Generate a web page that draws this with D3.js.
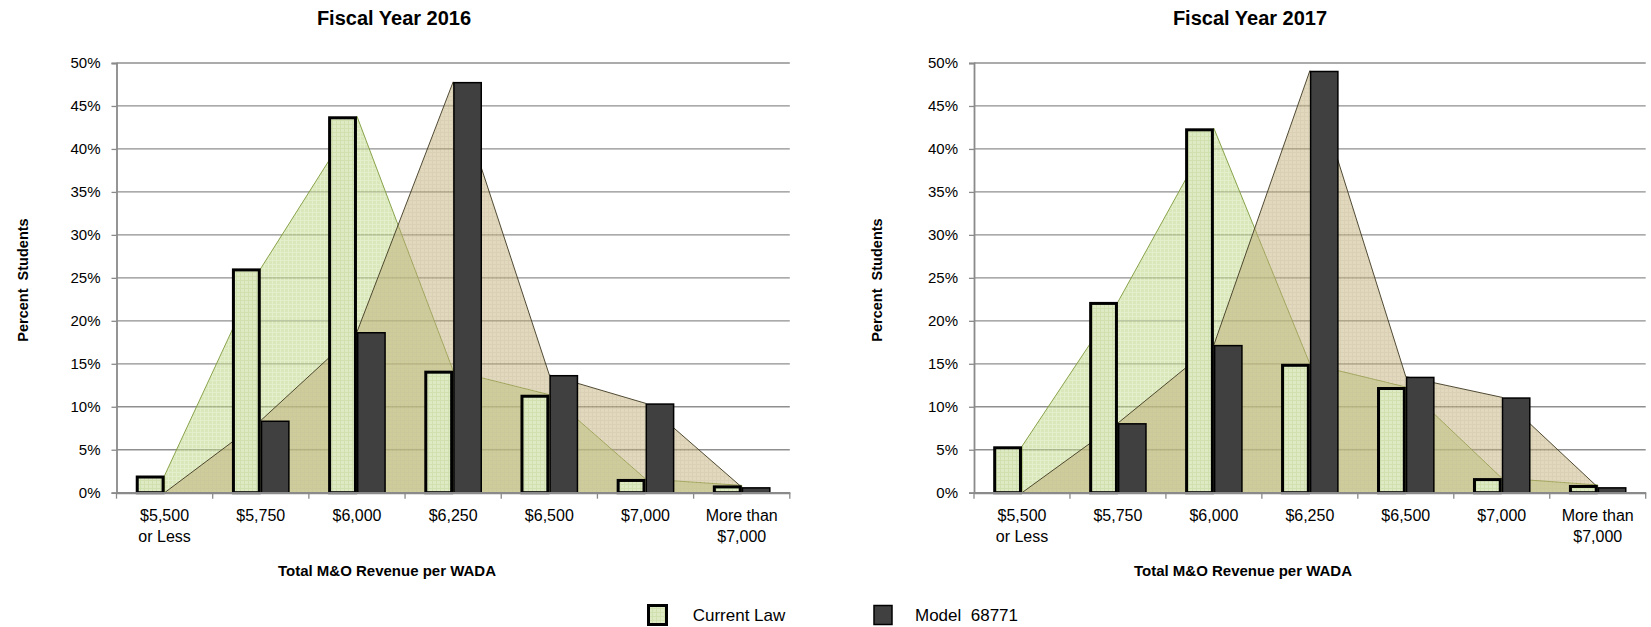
<!DOCTYPE html>
<html>
<head>
<meta charset="utf-8">
<script src="https://cdn.jsdelivr.net/npm/d3@7"></script>
<style>
  html, body { margin: 0; padding: 0; background: #fff; }
  svg text { font-family: "Liberation Sans", Arial, sans-serif; fill: #000; }
</style>
</head>
<body>
<svg id="chart" width="1651" height="627"></svg>
<script>
// ---- Data ----
const categories = ["$5,500 or Less", "$5,750", "$6,000", "$6,250", "$6,500", "$7,000", "More than $7,000"];
const tickLabelLines = [["$5,500", "or Less"], ["$5,750"], ["$6,000"], ["$6,250"], ["$6,500"], ["$7,000"], ["More than", "$7,000"]];
const yTicks = [0, 5, 10, 15, 20, 25, 30, 35, 40, 45, 50];
const seriesNames = ["Current Law", "Model  68771"];
const chartTitles = ["Fiscal Year 2016", "Fiscal Year 2017"];
const fy2016CurrentLaw = [2.0, 26.1, 43.8, 14.2, 11.4, 1.6, 0.85];
const fy2016Model = [0, 8.4, 18.7, 47.8, 13.7, 10.4, 0.65];
const fy2017CurrentLaw = [5.4, 22.2, 42.4, 15.0, 12.3, 1.7, 0.9];
const fy2017Model = [0, 8.1, 17.2, 49.1, 13.5, 11.1, 0.65];
const xAxisTitle = "Total M&O Revenue per WADA";
const yAxisTitle = "Percent  Students";

const svg = d3.select("#chart");
const defs = svg.append("defs");

function makePattern(id, base, line, size) {
  const p = defs.append("pattern").attr("id", id).attr("patternUnits", "userSpaceOnUse")
    .attr("width", size).attr("height", size);
  p.append("rect").attr("width", size).attr("height", size).attr("fill", base);
  p.append("rect").attr("x", 0).attr("y", 0).attr("width", size).attr("height", 1).attr("fill", line);
  p.append("rect").attr("x", 0).attr("y", 0).attr("width", 1).attr("height", size).attr("fill", line);
}
makePattern("patGreen", "rgb(188,212,130)", "rgb(204,224,158)", 4);
makePattern("patTan", "rgb(196,178,126)", "rgb(180,162,108)", 4);
makePattern("patBar", "rgb(222,234,196)", "rgb(208,224,174)", 4);

function drawChart(cfg) {
  const g = svg.append("g");
  const x = d3.scaleBand().domain(d3.range(categories.length)).range([cfg.x0, cfg.x1]).padding(0);
  const y = d3.scaleLinear().domain([0, 50]).range([492.7, 63]);
  const bw = x.bandwidth();
  const cx = i => x(i) + bw / 2;
  const half = bw * 0.3;

  // gridlines
  g.append("g").selectAll("line").data(yTicks.filter(d => d > 0)).join("line")
    .attr("x1", cfg.x0).attr("x2", cfg.x1)
    .attr("y1", d => y(d)).attr("y2", d => y(d))
    .attr("stroke", "#8f8f8f").attr("stroke-width", 1.3);

  // areas
  const area = d3.area().x((d, i) => cx(i)).y0(y(0)).y1(d => y(d));
  g.append("path").datum(cfg.cl).attr("d", area)
    .attr("fill", "url(#patGreen)").attr("fill-opacity", 0.55)
    .attr("stroke", "#7d9a3a").attr("stroke-width", 0.9);
  g.append("path").datum(cfg.model).attr("d", area)
    .attr("fill", "url(#patTan)").attr("fill-opacity", 0.5)
    .attr("stroke", "#3e3820").attr("stroke-width", 0.9);

  // bars
  g.append("g").selectAll("rect").data(cfg.cl).join("rect")
    .attr("x", (d, i) => cx(i) - half + 1.5).attr("width", half - 3)
    .attr("y", d => y(d) + 1.5).attr("height", d => Math.max(0, y(0) - y(d) - 1.5))
    .attr("fill", "url(#patBar)").attr("stroke", "#000").attr("stroke-width", 3);
  g.append("g").selectAll("rect").data(cfg.model).join("rect")
    .attr("x", (d, i) => cx(i) + 0.75).attr("width", half - 1.5)
    .attr("y", d => y(d) + 0.75).attr("height", d => Math.max(0, y(0) - y(d) - 0.75))
    .attr("fill", "#404040").attr("stroke", "#000").attr("stroke-width", 1.5)
    .attr("display", d => d > 0 ? null : "none");

  // y axis
  const yAxis = d3.axisLeft(y).tickValues(yTicks).tickFormat(d => d + "%").tickSize(5).tickPadding(11);
  const ya = g.append("g").attr("transform", `translate(${cfg.x0},0)`).call(yAxis);
  ya.select(".domain").attr("stroke", "#8a8a8a").attr("stroke-width", 1.8);
  ya.selectAll(".tick line").attr("stroke", "#8a8a8a").attr("stroke-width", 1.3);
  ya.selectAll(".tick text").attr("font-size", 15).attr("font-family", "Liberation Sans, Arial, sans-serif").attr("fill", "#000");

  // x axis
  const xAxis = d3.axisBottom(x).tickSize(0).tickFormat(() => "");
  const xa = g.append("g").attr("transform", `translate(0,${y(0)})`).call(xAxis);
  xa.select(".domain").attr("stroke", "#8a8a8a").attr("stroke-width", 2.2);
  const bounds = d3.range(categories.length + 1).map(i => cfg.x0 + i * bw);
  xa.selectAll("line.bound").data(bounds).join("line").attr("class", "bound")
    .attr("x1", d => d).attr("x2", d => d).attr("y1", 0).attr("y2", 6)
    .attr("stroke", "#8a8a8a").attr("stroke-width", 1.3);
  const lbl = g.append("g").selectAll("text").data(tickLabelLines).join("text")
    .attr("text-anchor", "middle").attr("font-size", 16);
  lbl.each(function(lines, i) {
    d3.select(this).selectAll("tspan").data(lines).join("tspan")
      .attr("x", cx(i)).attr("y", (d, j) => 521 + j * 21).text(d => d);
  });

  // titles
  g.append("text").attr("x", cfg.titleX).attr("y", 25).attr("text-anchor", "middle")
    .attr("font-size", 20).attr("font-weight", "bold").text(cfg.title);
  g.append("text").attr("x", cfg.xTitleX).attr("y", 576).attr("text-anchor", "middle")
    .attr("font-size", 15).attr("font-weight", "bold").text(xAxisTitle);
  g.append("text").attr("transform", `translate(${cfg.yTitleX},280) rotate(-90)`)
    .attr("text-anchor", "middle").attr("font-size", 14.5).attr("font-weight", "bold")
    .style("white-space", "pre").text(yAxisTitle);
}

drawChart({ x0: 116.5, x1: 789.8, cl: fy2016CurrentLaw, model: fy2016Model, title: chartTitles[0], titleX: 394, xTitleX: 387, yTitleX: 27.5 });
drawChart({ x0: 974, x1: 1645.7, cl: fy2017CurrentLaw, model: fy2017Model, title: chartTitles[1], titleX: 1250, xTitleX: 1243, yTitleX: 882 });

// legend
const lg = svg.append("g");
lg.append("rect").attr("x", 648.5).attr("y", 605.5).attr("width", 18).attr("height", 19)
  .attr("fill", "url(#patBar)").attr("stroke", "#000").attr("stroke-width", 3);
lg.append("text").attr("x", 692.7).attr("y", 621).attr("font-size", 17).text(seriesNames[0]);
lg.append("rect").attr("x", 874).attr("y", 605.5).attr("width", 18).attr("height", 19)
  .attr("fill", "#404040").attr("stroke", "#000").attr("stroke-width", 1.5);
lg.append("text").attr("x", 915).attr("y", 621).attr("font-size", 17)
  .style("white-space", "pre").text(seriesNames[1]);
</script>
</body>
</html>
